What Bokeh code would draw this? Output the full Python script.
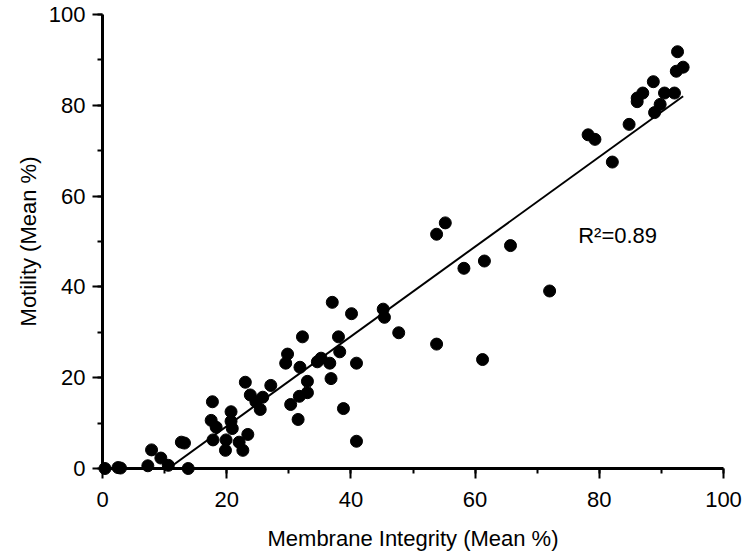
from bokeh.plotting import figure
from bokeh.models import Range1d, SingleIntervalTicker, Label
from bokeh.embed import file_html
from bokeh.resources import INLINE

# Membrane integrity (x) and motility (y), mean %
membrane = [0.4, 2.5, 2.9, 7.3, 7.9, 9.4, 10.6, 13.8, 12.7, 13.2,
            17.7, 17.5, 18.3, 17.8, 19.9, 19.8, 20.7, 20.7, 20.9, 22.0,
            22.6, 23.4, 23.0, 23.8, 24.7, 25.8, 25.4, 27.1, 29.8, 29.5,
            30.3, 31.5, 31.7, 31.8, 32.2, 33.0, 33.0, 34.6, 35.2, 36.6,
            37.0, 36.8, 38.0, 38.2, 38.8, 40.1, 40.9, 40.9, 45.2, 45.4,
            47.7, 53.8, 55.2, 53.8, 58.2, 61.5, 61.2, 65.7, 72.0, 78.2,
            79.3, 82.1, 84.8, 86.1, 86.1, 87.0, 88.7, 88.9, 89.8, 90.5,
            92.1, 92.6, 92.4, 93.5]
motility = [0.0, 0.2, 0.1, 0.6, 4.1, 2.3, 0.7, 0.0, 5.8, 5.6,
            14.7, 10.6, 9.1, 6.3, 6.3, 4.0, 12.5, 10.4, 8.8, 5.8,
            4.0, 7.5, 19.0, 16.2, 14.7, 15.7, 13.0, 18.3, 25.2, 23.2,
            14.1, 10.8, 15.9, 22.3, 29.0, 19.2, 16.7, 23.5, 24.3, 23.2,
            36.6, 19.8, 29.0, 25.7, 13.2, 34.1, 23.2, 6.0, 35.1, 33.3,
            29.9, 51.6, 54.1, 27.4, 44.1, 45.7, 24.0, 49.1, 39.1, 73.5,
            72.5, 67.5, 75.8, 81.6, 80.8, 82.7, 85.2, 78.4, 80.2, 82.7,
            82.7, 91.8, 87.5, 88.4]

# Regression line end points (as drawn in the reference)
fit_x = [10.6, 93.5]
fit_y = [0.0, 82.0]
r2_text = "R\u00b2=0.89"
r2_pos = (76.6, 51.3)

FONT = "Liberation Sans"
FS = "22px"

p = figure(width=749, height=557, x_range=Range1d(0, 100), y_range=Range1d(0, 100),
           output_backend="svg", toolbar_location=None,
           min_border_left=102, min_border_right=26, min_border_top=14, min_border_bottom=89)
p.outline_line_color = None
p.grid.visible = False
p.background_fill_color = "white"
p.border_fill_color = "white"

for ax in (p.xaxis[0], p.yaxis[0]):
    ax.ticker = SingleIntervalTicker(interval=20, num_minor_ticks=2)
    ax.axis_line_width = 3
    ax.axis_line_color = "black"
    ax.major_tick_line_width = 2
    ax.major_tick_line_color = "black"
    ax.minor_tick_line_width = 2
    ax.minor_tick_line_color = "black"
    ax.major_tick_out = 10
    ax.major_tick_in = 0
    ax.minor_tick_out = 5
    ax.minor_tick_in = 0
    ax.major_label_text_font = FONT
    ax.major_label_text_font_size = FS
    ax.major_label_text_color = "black"
    ax.axis_label_text_font = FONT
    ax.axis_label_text_font_size = FS
    ax.axis_label_text_font_style = "normal"
    ax.axis_label_text_color = "black"

p.xaxis.axis_label = "Membrane Integrity (Mean %)"
p.yaxis.axis_label = "Motility (Mean %)"
p.xaxis.major_label_standoff = 13
p.xaxis.axis_label_standoff = 16
p.yaxis.major_label_standoff = 7
p.yaxis.axis_label_standoff = 5

p.line(fit_x, fit_y, line_width=2, color="black")
r = p.scatter(membrane, motility, size=12, color="black", level="overlay")

p.add_layout(Label(x=r2_pos[0], y=r2_pos[1], text=r2_text, text_font=FONT,
                   text_font_size=FS, text_color="black", text_baseline="alphabetic"))

open("out.html", "w").write(file_html(p, INLINE))
